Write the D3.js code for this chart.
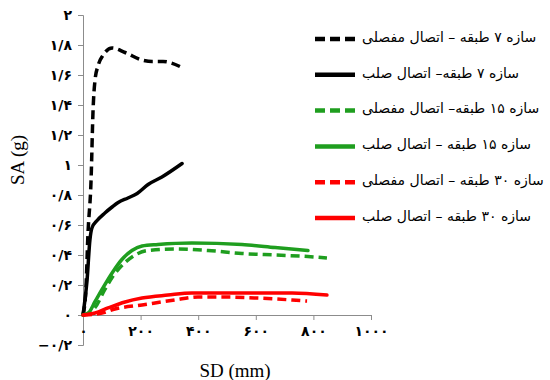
<!DOCTYPE html>
<html>
<head>
<meta charset="utf-8">
<script src="https://cdnjs.cloudflare.com/ajax/libs/d3/7.8.5/d3.min.js"></script>
<style>
  body { margin: 0; background: #fff; }
  .axis path, .axis line { stroke: #8c8c8c; }
  .axis text { font-family: "DejaVu Sans", sans-serif; font-size: 14px; font-weight: bold; fill: #000; }
  .title { font-family: "Liberation Serif", serif; font-size: 19px; }
  .legend text { font-family: "DejaVu Sans", sans-serif; font-size: 14px; }
</style>
</head>
<body>
<svg id="chart" width="550" height="380"></svg>
<script>
// SD (mm) / SA (g)
var sd7h = [0, 10, 17, 28, 35, 42, 52, 69, 101, 146, 205, 240, 278, 344];
var sa7h = [0, 0.17, 0.53, 0.9, 1.37, 1.57, 1.66, 1.73, 1.78, 1.75, 1.70, 1.69, 1.69, 1.65];

var sd7r = [0, 14, 24, 31, 49, 76, 101, 122, 156, 188, 226, 274, 344];
var sa7r = [0, 0.23, 0.5, 0.58, 0.63, 0.68, 0.72, 0.75, 0.78, 0.81, 0.87, 0.92, 1.01];

var sd15h = [0, 42, 76, 101, 146, 191, 226, 319, 434, 552, 667, 781, 847];
var sa15h = [0, 0.05, 0.17, 0.25, 0.35, 0.41, 0.43, 0.44, 0.43, 0.41, 0.40, 0.39, 0.38];

var sd15r = [0, 17, 42, 66, 101, 135, 170, 205, 260, 378, 552, 667, 781];
var sa15r = [0, 0.01, 0.09, 0.17, 0.28, 0.37, 0.43, 0.46, 0.47, 0.48, 0.47, 0.45, 0.43];

var sd30h = [0, 66, 111, 205, 319, 399, 493, 608, 726, 778];
var sa30h = [0, 0.013, 0.04, 0.067, 0.10, 0.12, 0.12, 0.113, 0.10, 0.093];

var sd30r = [0, 42, 87, 146, 205, 295, 378, 493, 608, 726, 847];
var sa30r = [0, 0.013, 0.047, 0.087, 0.113, 0.133, 0.147, 0.147, 0.147, 0.147, 0.133];

var seriesNames = [
  "سازه ۷ طبقه – اتصال مفصلی",
  "سازه ۷ طبقه– اتصال صلب",
  "سازه ۱۵ طبقه– اتصال مفصلی",
  "سازه ۱۵ طبقه – اتصال صلب",
  "سازه ۳۰ طبقه – اتصال مفصلی",
  "سازه ۳۰ طبقه – اتصال صلب"
];

var xTicks = [0, 200, 400, 600, 800, 1000];
var xTickLabels = ["۰", "۲۰۰", "۴۰۰", "۶۰۰", "۸۰۰", "۱۰۰۰"];
var yTicks = [-0.2, 0, 0.2, 0.4, 0.6, 0.8, 1, 1.2, 1.4, 1.6, 1.8, 2];
var yTickLabels = ["−۰/۲", "۰", "۰/۲", "۰/۴", "۰/۶", "۰/۸", "۱", "۱/۲", "۱/۴", "۱/۶", "۱/۸", "۲"];

var series = [
  {x: sd7h, y: sa7h, color: "#000000", dash: true},
  {x: sd7r, y: sa7r, color: "#000000", dash: false},
  {x: sd15h, y: sa15h, color: "#1f9e1f", dash: true},
  {x: sd15r, y: sa15r, color: "#1f9e1f", dash: false},
  {x: sd30h, y: sa30h, color: "#ff0000", dash: true},
  {x: sd30r, y: sa30r, color: "#ff0000", dash: false}
];

var svg = d3.select("#chart");

var x = d3.scaleLinear().domain([0, 1000]).range([83, 371]);
var y = d3.scaleLinear().domain([-0.2, 2]).range([345, 15]);

// y axis (full height)
svg.append("g")
    .attr("class", "axis")
    .attr("transform", "translate(83,0)")
    .call(d3.axisLeft(y).tickValues(yTicks).tickSize(5).tickPadding(6)
      .tickFormat(function(d, i) { return yTickLabels[i]; }));

// x axis sits on SA = 0
svg.append("g")
    .attr("class", "axis")
    .attr("transform", "translate(0," + y(0) + ")")
    .call(d3.axisBottom(x).tickValues(xTicks).tickSize(5).tickPadding(6)
      .tickFormat(function(d, i) { return xTickLabels[i]; }));

var line = d3.line()
    .x(function(d) { return x(d[0]); })
    .y(function(d) { return y(d[1]); })
    .curve(d3.curveMonotoneX);

svg.selectAll(".curve")
    .data(series)
  .enter().append("path")
    .attr("class", "curve")
    .attr("fill", "none")
    .attr("stroke", function(d) { return d.color; })
    .attr("stroke-width", 3.5)
    .attr("stroke-linejoin", "round")
    .attr("stroke-linecap", function(d) { return d.dash ? "butt" : "round"; })
    .attr("stroke-dasharray", function(d) { return d.dash ? "9,5" : null; })
    .attr("d", function(d) { return line(d.x.map(function(v, i) { return [v, d.y[i]]; })); });

// legend
var legend = svg.append("g").attr("class", "legend")
  .selectAll("g")
    .data(series)
  .enter().append("g")
    .attr("transform", function(d, i) { return "translate(0," + (39 + i * 35.8) + ")"; });

legend.append("line")
    .attr("x1", 315).attr("x2", 355)
    .attr("stroke", function(d) { return d.color; })
    .attr("stroke-width", 4.5)
    .attr("stroke-dasharray", function(d) { return d.dash ? "10,5" : null; });

legend.append("text")
    .attr("x", 362)
    .attr("y", 0)
    .attr("dy", "0.2em")
    .text(function(d, i) { return seriesNames[i]; });

svg.append("text")
    .attr("class", "title")
    .attr("transform", "translate(24,160) rotate(-90)")
    .attr("text-anchor", "middle")
    .text("SA (g)");

svg.append("text")
    .attr("class", "title")
    .attr("x", 235)
    .attr("y", 377)
    .attr("text-anchor", "middle")
    .text("SD (mm)");
</script>
</body>
</html>
